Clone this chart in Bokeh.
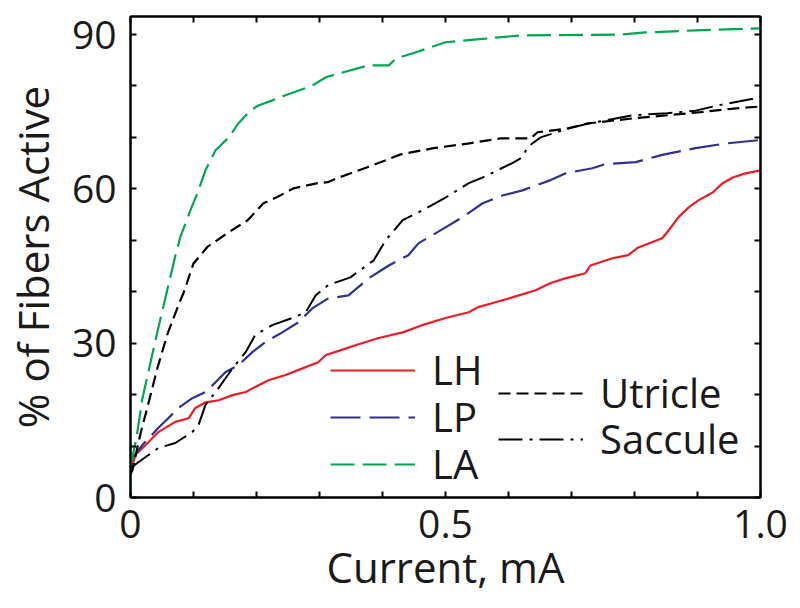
from bokeh.plotting import figure
from bokeh.models import Legend, LegendItem, LinearAxis, FixedTicker, Range1d, CustomLabelingPolicy
from bokeh.embed import file_html
from bokeh.resources import INLINE

# ---- data ----
LH_x = [0, 0.008, 0.024, 0.044, 0.071, 0.092, 0.103, 0.119, 0.140, 0.162, 0.183, 0.198, 0.219, 0.246, 0.273,
        0.298, 0.310, 0.333, 0.357, 0.394, 0.432, 0.463, 0.500, 0.537, 0.552, 0.575, 0.606, 0.643, 0.667, 0.690,
        0.722, 0.730, 0.765, 0.790, 0.806, 0.844, 0.854, 0.870, 0.886, 0.902, 0.924, 0.940, 0.956, 0.976, 1.0]
LH_y = [5.0, 8.3, 10.2, 12.7, 14.7, 15.4, 17.4, 18.5, 18.9, 19.9, 20.5, 21.5, 22.8, 23.8, 25.1,
        26.3, 27.7, 28.6, 29.6, 31.0, 32.1, 33.5, 34.9, 36.0, 37.0, 37.8, 38.9, 40.3, 41.7, 42.6,
        43.6, 45.1, 46.5, 47.1, 48.6, 50.4, 51.9, 54.5, 56.4, 57.8, 59.3, 61.1, 62.2, 63.0, 63.6]

LP_x = [0, 0.003, 0.019, 0.044, 0.060, 0.076, 0.098, 0.119, 0.135, 0.151, 0.171, 0.194, 0.214, 0.241, 0.267,
        0.289, 0.314, 0.346, 0.378, 0.410, 0.441, 0.457, 0.500, 0.527, 0.559, 0.590, 0.622, 0.667, 0.690, 0.733,
        0.754, 0.802, 0.844, 0.897, 0.944, 1.0]
LP_y = [6.0, 7.7, 10.2, 13.5, 15.4, 17.4, 19.3, 20.5, 22.4, 24.4, 25.7, 28.3, 30.2, 32.1, 34.1,
        36.8, 38.7, 39.3, 42.6, 45.1, 47.1, 49.4, 52.5, 54.5, 57.2, 58.7, 59.7, 61.7, 63.0, 64.0,
        64.8, 65.2, 66.6, 67.9, 68.8, 69.5]

LA_x = [0, 0, 0.010, 0.019, 0.044, 0.071, 0.079, 0.095, 0.106, 0.119, 0.135, 0.140, 0.156, 0.171, 0.190,
        0.203, 0.225, 0.246, 0.267, 0.289, 0.310, 0.330, 0.378, 0.410, 0.421, 0.452, 0.500, 0.563, 0.616,
        0.781, 0.817, 0.897, 1.0]
LA_y = [0, 6.0, 12.0, 19.3, 32.9, 46.9, 50.6, 55.8, 59.1, 63.6, 67.5, 68.1, 70.0, 72.7, 75.2,
        76.2, 77.2, 78.2, 79.1, 80.1, 81.7, 82.4, 84.0, 84.0, 85.3, 86.5, 88.5, 89.2, 89.8,
        90.0, 90.4, 90.8, 91.2]

UT_x = [0, 0.003, 0.016, 0.027, 0.043, 0.059, 0.079, 0.084, 0.100, 0.122, 0.154, 0.186, 0.211, 0.233, 0.259,
        0.297, 0.313, 0.333, 0.376, 0.429, 0.481, 0.535, 0.587, 0.635, 0.646, 0.693, 0.725, 0.798, 0.852,
        0.905, 0.957, 1.0]
UT_y = [4.5, 5.3, 12.5, 17.6, 25.3, 31.9, 38.3, 39.7, 45.5, 48.7, 51.4, 53.9, 57.2, 58.4, 60.1,
        61.1, 61.3, 62.3, 64.2, 66.7, 67.9, 68.8, 69.8, 69.8, 71.0, 71.7, 72.7, 73.7, 74.3,
        74.9, 75.6, 76.0]

SA_x = [0, 0.013, 0.044, 0.071, 0.098, 0.108, 0.119, 0.140, 0.162, 0.183, 0.198, 0.225, 0.257, 0.278, 0.294,
        0.314, 0.349, 0.386, 0.405, 0.432, 0.463, 0.500, 0.537, 0.559, 0.606, 0.622, 0.630, 0.651, 0.694,
        0.727, 0.798, 0.852, 0.897, 0.932, 1.0]
SA_y = [5.7, 6.9, 9.6, 10.6, 12.7, 14.1, 18.0, 21.3, 25.1, 28.3, 31.6, 33.5, 34.9, 36.0, 39.3,
        41.3, 42.8, 46.1, 50.0, 53.9, 55.8, 58.3, 61.1, 62.2, 65.0, 66.1, 68.1, 70.0, 71.7,
        72.7, 74.3, 74.7, 75.2, 76.2, 77.8]

X_MAJOR = [0, 0.5, 1.0]
X_MINOR = [0.1, 0.2, 0.3, 0.4, 0.6, 0.7, 0.8, 0.9]
X_LABELS = {0: "0", 0.5: "0.5", 1: "1.0"}
Y_MAJOR = [0, 30, 60, 90]
Y_MINOR = [10, 20, 40, 50, 70, 80]

FONT = "Open Sans"
RED, BLUE, GREEN, BLACK = "#ED1C24", "#2E3192", "#00A651", "#000000"

p = figure(frame_width=630, frame_height=481, x_range=Range1d(0, 1.0), y_range=Range1d(0, 93.5),
           output_backend="svg", toolbar_location=None,
           min_border_left=122, min_border_top=16, min_border_right=32, min_border_bottom=85)
p.background_fill_color = "white"
p.border_fill_color = "white"
p.outline_line_color = "black"
p.outline_line_width = 2
p.xgrid.visible = False
p.ygrid.visible = False

def style_axis(ax, ticks, minor, show_labels=True):
    ax.ticker = FixedTicker(ticks=ticks, minor_ticks=minor)
    ax.axis_line_color = "black"
    ax.axis_line_width = 2
    ax.major_tick_in = 6
    ax.major_tick_out = 0
    ax.minor_tick_in = 6
    ax.minor_tick_out = 0
    ax.major_tick_line_width = 2
    ax.minor_tick_line_width = 2
    ax.major_tick_line_color = "black"
    ax.minor_tick_line_color = "black"
    if show_labels:
        ax.major_label_text_font = FONT
        ax.major_label_text_font_size = "39px"
        ax.major_label_text_color = "#1a1a1a"
    else:
        ax.major_label_text_font_size = "0px"
        ax.major_label_standoff = 0
        ax.major_label_policy = CustomLabelingPolicy(
            code="for (const i of indices) { indices.unset(i) }\nreturn indices")

xa = p.xaxis[0]
ya = p.yaxis[0]
style_axis(xa, X_MAJOR, X_MINOR)
style_axis(ya, Y_MAJOR, Y_MINOR)
xa.major_label_overrides = X_LABELS
xa.major_label_standoff = 12
ya.major_label_standoff = 14
xa.axis_label = "Current, mA"
ya.axis_label = "% of Fibers Active"
for ax in (xa, ya):
    ax.axis_label_text_font = FONT
    ax.axis_label_text_font_size = "42px"
    ax.axis_label_text_font_style = "normal"
    ax.axis_label_text_color = "#1a1a1a"
xa.axis_label_standoff = -3
ya.axis_label_standoff = 8

top = LinearAxis()
style_axis(top, X_MAJOR, X_MINOR, show_labels=False)
p.add_layout(top, "above")
right = LinearAxis()
style_axis(right, Y_MAJOR, Y_MINOR, show_labels=False)
p.add_layout(right, "right")

r_lh = p.line(LH_x, LH_y, line_color=RED, line_width=2.2)
r_lp = p.line(LP_x, LP_y, line_color=BLUE, line_width=2.2, line_dash="30 9")
r_la = p.line(LA_x, LA_y, line_color=GREEN, line_width=2.2, line_dash="24 8")
r_ut = p.line(UT_x, UT_y, line_color=BLACK, line_width=2.2, line_dash="12 6")
r_sa = p.line(SA_x, SA_y, line_color=BLACK, line_width=2.0, line_dash="24 7 3 7")

def add_legend_row(label, renderer, loc):
    lg = Legend(items=[LegendItem(label=label, renderers=[renderer])], location=loc,
                orientation="vertical", border_line_color=None, background_fill_alpha=0,
                padding=0, margin=0, spacing=0, glyph_width=85, glyph_height=20,
                label_standoff=17, label_text_font=FONT, label_text_font_size="40px",
                label_text_color="#1a1a1a")
    p.add_layout(lg, "center")

add_legend_row("LH", r_lh, (200, 100))
add_legend_row("LP", r_lp, (200, 53))
add_legend_row("LA", r_la, (200, 6))
add_legend_row("Utricle", r_ut, (368, 77))
add_legend_row("Saccule", r_sa, (368, 31))

open("out.html", "w").write(file_html(p, INLINE))
